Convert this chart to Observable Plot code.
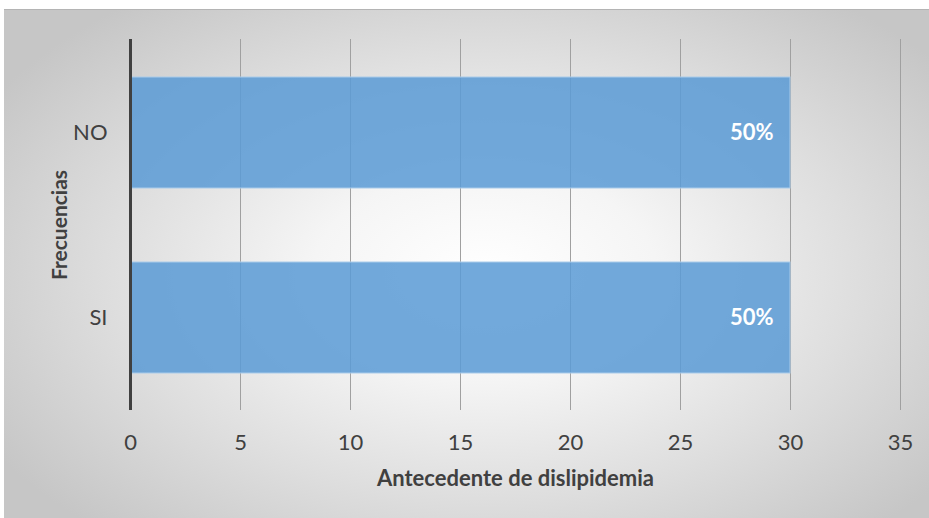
<!DOCTYPE html>
<html>
<head>
<meta charset="utf-8">
<script src="https://cdn.jsdelivr.net/npm/d3@7"></script>
<script src="https://cdn.jsdelivr.net/npm/@observablehq/plot@0.6"></script>
<style>
  html, body { margin: 0; padding: 0; background: #ffffff; }
  #wrap { position: relative; width: 929px; height: 518px; overflow: hidden; }
  #panel {
    position: absolute; left: 4px; top: 9px; right: 0; bottom: 0;
    border-top: 1.5px solid #b4b4b4;
    background: radial-gradient(ellipse 62% 68% at 52% 52%, #ffffff 0%, #f5f5f5 30%, #dedede 65%, #c6c6c6 100%);
  }
  #chart { position: absolute; left: 0; top: 0; }
  #chart svg { background: transparent; overflow: visible; }
</style>
</head>
<body>
<div id="wrap">
  <div id="panel"></div>
  <div id="chart"></div>
</div>
<script>
// Respuestas y frecuencias
const categories = ["NO", "SI"];
const counts = [30, 30];
const xTicks = [0, 5, 10, 15, 20, 25, 30, 35];
const xTitle = "Antecedente de dislipidemia";
const yTitle = "Frecuencias";

const total = d3.sum(counts);
const rows = categories.map((c, i) => ({
  cat: c,
  n: counts[i],
  pct: d3.format(".0%")(counts[i] / total)
}));

const font = "Lato, 'Open Sans', sans-serif";

const chart = Plot.plot({
  width: 929,
  height: 518,
  marginLeft: 130,
  marginRight: 29,
  marginTop: 39,
  marginBottom: 108,
  style: { background: "transparent", fontFamily: font, fontSize: "22px", color: "#404040" },
  x: { domain: [0, 35], ticks: xTicks, label: null },
  y: { domain: categories, paddingInner: 0.4, paddingOuter: 0.2, label: null },
  marks: [
    Plot.gridX(xTicks, { stroke: "#a0a0a0", strokeOpacity: 1, strokeWidth: 1 }),
    Plot.barX(rows, {
      y: "cat", x: "n",
      fill: "#5b9bd5", fillOpacity: 0.86,
      stroke: "#a9cbea", strokeWidth: 1
    }),
    Plot.ruleX([0], { stroke: "#404040", strokeWidth: 3 }),
    Plot.text(rows, {
      y: "cat", x: "n", text: "pct",
      textAnchor: "end", dx: -17,
      fill: "#ffffff", fontWeight: "bold", fontSize: 22
    }),
    Plot.axisX(xTicks, { tickSize: 0, tickPadding: 24, label: null, fill: "#404040", fontSize: 22 }),
    Plot.axisY({ tickSize: 0, tickPadding: 23, label: null, fill: "#404040", fontSize: 22 }),
    Plot.text([xTitle], {
      frameAnchor: "bottom", dy: 75,
      fontWeight: "bold", fontSize: 22, fill: "#404040"
    }),
    Plot.text([yTitle], {
      frameAnchor: "left", dx: -70, rotate: -90, textAnchor: "middle",
      fontWeight: "bold", fontSize: 21, fill: "#404040"
    })
  ]
});

document.getElementById("chart").appendChild(chart);
</script>
</body>
</html>
